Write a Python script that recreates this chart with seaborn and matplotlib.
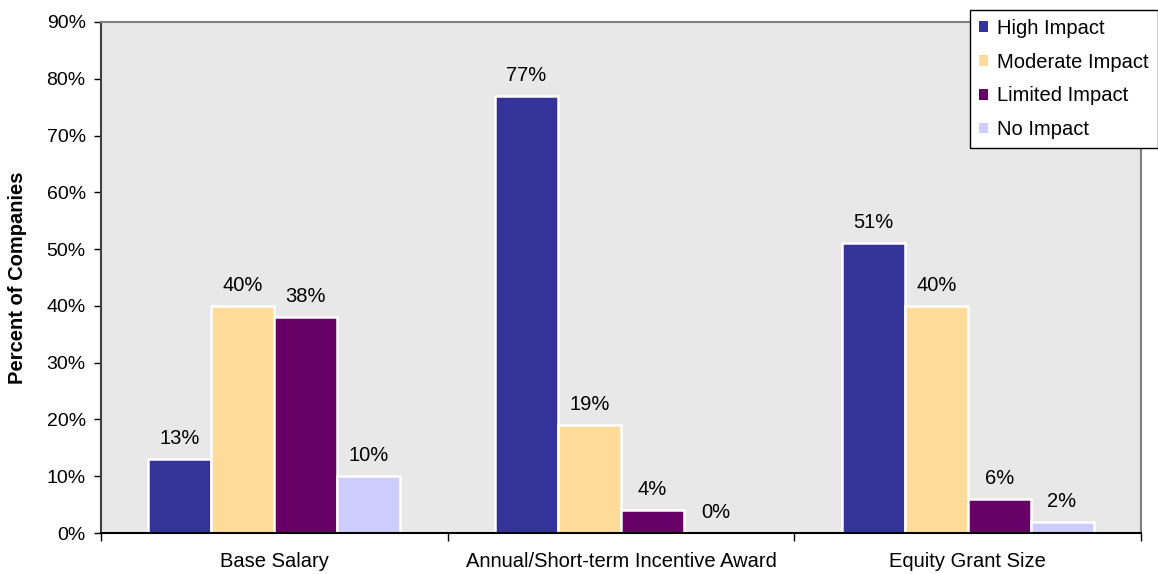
import matplotlib
matplotlib.use("Agg")
import matplotlib.pyplot as plt
import matplotlib.ticker as mticker
from matplotlib.patches import Patch
import pandas as pd
import seaborn as sns

# Survey results: share of companies by impact level for each pay element
categories = ["Base Salary", "Annual/Short-term Incentive Award", "Equity Grant Size"]
impact_levels = ["High Impact", "Moderate Impact", "Limited Impact", "No Impact"]
high_impact = [13, 77, 51]
moderate_impact = [40, 19, 40]
limited_impact = [38, 4, 6]
no_impact = [10, 0, 2]
y_ticks = [0, 10, 20, 30, 40, 50, 60, 70, 80, 90]

colors = ["#333399", "#FFDB99", "#660066", "#CCCCFF"]

series = [high_impact, moderate_impact, limited_impact, no_impact]
df = pd.DataFrame(
    [
        {"Category": cat, "Impact": lvl, "Percent": vals[i]}
        for lvl, vals in zip(impact_levels, series)
        for i, cat in enumerate(categories)
    ]
)

sns.set_theme(style="white")
plt.rcParams["font.family"] = ["Liberation Sans", "DejaVu Sans"]

fig = plt.figure(figsize=(11.58, 5.74), dpi=100)
ax = fig.add_axes([101 / 1158, 1 - 533 / 574, 1040 / 1158, 511 / 574])
ax.set_facecolor("#E8E8E8")

sns.barplot(
    data=df,
    x="Category",
    y="Percent",
    hue="Impact",
    order=categories,
    hue_order=impact_levels,
    palette=colors,
    width=0.726,
    edgecolor="white",
    linewidth=1.8,
    saturation=1,
    legend=False,
    ax=ax,
)

for container in ax.containers:
    ax.bar_label(
        container,
        labels=[f"{v:.0f}%" for v in container.datavalues],
        padding=8,
        fontsize=14.5,
        color="black",
    )

ax.set_xlim(-0.5, len(categories) - 0.5)
ax.set_ylim(0, 90)
ax.set_yticks(y_ticks)
ax.yaxis.set_major_formatter(mticker.FuncFormatter(lambda v, _: f"{v:.0f}%"))
ax.tick_params(axis="y", direction="out", length=5, width=1, color="black",
               labelsize=14, pad=6, left=True, labelcolor="black")

# category labels centred, ticks at the category boundaries
ax.set_xticks(range(len(categories)))
ax.set_xticklabels(categories)
ax.set_xticks([i - 0.5 for i in range(len(categories) + 1)], minor=True)
ax.tick_params(axis="x", which="major", length=0, labelsize=14.5, pad=14,
               labelcolor="black")
ax.tick_params(axis="x", which="minor", direction="out", length=6, width=1,
               color="black", bottom=True)

ax.set_xlabel("")
ax.set_ylabel("Percent of Companies", fontsize=14.5, fontweight="bold",
              labelpad=14, color="black")

for side in ["top", "right"]:
    ax.spines[side].set_color("#808080")
    ax.spines[side].set_linewidth(1.5)
ax.spines["left"].set_color("#404040")
ax.spines["left"].set_linewidth(1.5)
ax.spines["bottom"].set_color("black")
ax.spines["bottom"].set_linewidth(1.5)

handles = [Patch(facecolor=c, edgecolor="none") for c in colors]
leg = fig.legend(
    handles,
    impact_levels,
    loc="upper left",
    bbox_to_anchor=(970 / 1158, 1 - 10 / 574),
    frameon=True,
    fancybox=False,
    edgecolor="black",
    framealpha=1,
    fontsize=14.5,
    handlelength=0.45,
    handleheight=0.45,
    handletextpad=0.45,
    labelspacing=0.73,
    borderpad=0.45,
    borderaxespad=0,
)
leg.get_frame().set_linewidth(1)
for t in leg.get_texts():
    t.set_color("black")

fig.savefig("out.png", dpi=100)
